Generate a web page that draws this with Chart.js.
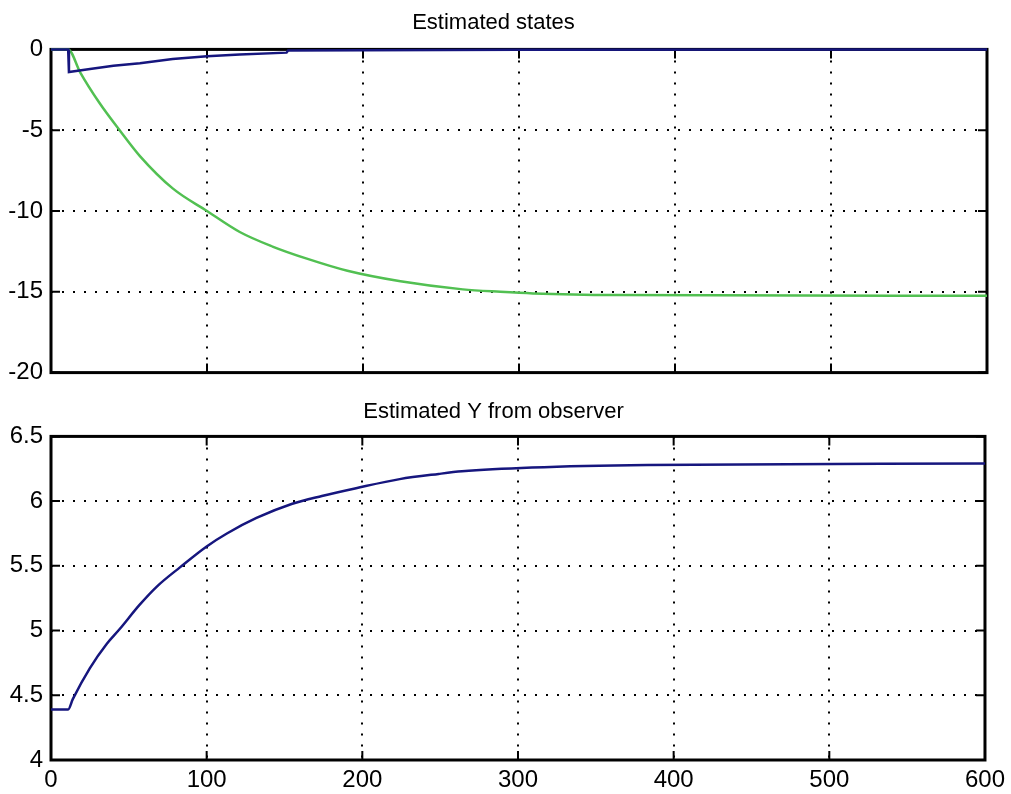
<!DOCTYPE html>
<html>
  <head>
    <script src="https://cdn.jsdelivr.net/npm/chart.js@4.4.1/dist/chart.umd.min.js"></script>
    <style>
      body {
        margin: 0;
        background: #ffffff;
      }
      .wrap {
        position: relative;
        width: 1011px;
        height: 794px;
      }
      canvas {
        position: absolute;
        left: 0;
      }
      #topChart { top: 0; }
      #bottomChart { top: 390px; }
    </style>
  </head>
  <body>
    <div class="wrap">
      <canvas id="topChart" width="1011" height="395"></canvas>
      <canvas id="bottomChart" width="1011" height="404"></canvas>
    </div>

    <script>
      // time axis ticks
      const xTicks = [0, 100, 200, 300, 400, 500, 600];

      // top plot: estimated states
      const state1Time  = [0, 11, 11.5, 25, 40, 57, 78, 100, 121, 151, 152, 200, 300, 600];
      const state1Value = [0, 0, -1.4, -1.21, -1.01, -0.85, -0.6, -0.42, -0.31, -0.2, -0.07, -0.05, -0.02, 0];

      const state2Time  = [0, 11, 18.6, 31, 44, 57, 78, 100, 121, 142, 164, 190, 224, 264, 288, 309, 362, 600];
      const state2Value = [0, 0, -1.4, -3.3, -5.0, -6.6, -8.6, -10.0, -11.3, -12.2, -12.95, -13.7, -14.35, -14.85, -15.0, -15.1, -15.2, -15.25];

      // bottom plot: estimated Y from observer
      const yHatTime  = [0, 11, 14, 25, 36, 44, 57, 68, 83, 100, 113, 132, 155, 174, 196, 224, 249, 264, 309, 383, 600];
      const yHatValue = [4.39, 4.39, 4.47, 4.71, 4.9, 5.01, 5.2, 5.34, 5.49, 5.65, 5.75, 5.87, 5.98, 6.04, 6.1, 6.17, 6.21, 6.23, 6.26, 6.28, 6.29];

      const NAVY = '#16167e';
      const GREEN = '#52c052';
      const FONT = 'Arial, "Liberation Sans", sans-serif';

      function toPoints(xs, ys) {
        return xs.map((x, i) => ({ x: x, y: ys[i] }));
      }

      // box around the axes plus inward tick marks, matlab style
      const boxTicks = {
        id: 'boxTicks',
        beforeDatasetsDraw(chart) {
          const ctx = chart.ctx;
          const a = chart.chartArea;
          const len = 9;
          ctx.save();
          ctx.strokeStyle = '#000000';
          ctx.lineWidth = 2;
          ctx.beginPath();
          chart.scales.x.ticks.forEach(t => {
            const px = chart.scales.x.getPixelForValue(t.value);
            ctx.moveTo(px, a.bottom);
            ctx.lineTo(px, a.bottom - len);
            ctx.moveTo(px, a.top);
            ctx.lineTo(px, a.top + len);
          });
          chart.scales.y.ticks.forEach(t => {
            const py = chart.scales.y.getPixelForValue(t.value);
            ctx.moveTo(a.left, py);
            ctx.lineTo(a.left + len, py);
            ctx.moveTo(a.right, py);
            ctx.lineTo(a.right - len, py);
          });
          ctx.stroke();
          ctx.lineWidth = 3;
          ctx.strokeRect(a.left, a.top, a.right - a.left, a.bottom - a.top);
          ctx.restore();
        }
      };

      function makeOptions(title, yMin, yMax, yStep, showX, titlePad) {
        return {
          responsive: false,
          animation: false,
          layout: { padding: { left: 0, right: 24, top: 0, bottom: 0 } },
          plugins: {
            legend: { display: false },
            tooltip: { enabled: false },
            title: {
              display: true,
              text: title,
              color: '#000000',
              font: { family: FONT, size: 22, weight: 'normal' },
              padding: titlePad
            }
          },
          scales: {
            x: {
              type: 'linear',
              min: 0,
              max: 600,
              afterBuildTicks: s => { s.ticks = xTicks.map(v => ({ value: v })); },
              afterFit: s => { s.height = showX ? 34 : 20; },
              ticks: {
                display: showX,
                color: '#000000',
                font: { family: FONT, size: 24 },
                padding: 6,
                maxRotation: 0
              },
              grid: {
                color: '#000000',
                lineWidth: 2,
                drawTicks: false
              },
              border: { display: false, dash: [2, 9] }
            },
            y: {
              min: yMin,
              max: yMax,
              afterFit: s => { s.width = 51; },
              ticks: {
                stepSize: yStep,
                color: '#000000',
                font: { family: FONT, size: 24 },
                padding: 8,
                callback: v => String(Number(v.toFixed(2)))
              },
              grid: {
                color: '#000000',
                lineWidth: 2,
                drawTicks: false
              },
              border: { display: false, dash: [2, 9] }
            }
          }
        };
      }

      new Chart(document.getElementById('topChart').getContext('2d'), {
        type: 'line',
        data: {
          datasets: [
            {
              label: 'x1',
              data: toPoints(state1Time, state1Value),
              borderColor: NAVY,
              borderWidth: 2.5,
              pointRadius: 0,
              tension: 0,
              clip: 4
            },
            {
              label: 'x2',
              data: toPoints(state2Time, state2Value),
              borderColor: GREEN,
              borderWidth: 2.5,
              pointRadius: 0,
              cubicInterpolationMode: 'monotone',
              clip: 4
            }
          ]
        },
        options: makeOptions('Estimated states', -20, 0, 5, false, { top: 10, bottom: 13 }),
        plugins: [boxTicks]
      });

      new Chart(document.getElementById('bottomChart').getContext('2d'), {
        type: 'line',
        data: {
          datasets: [
            {
              label: 'y hat',
              data: toPoints(yHatTime, yHatValue),
              borderColor: NAVY,
              borderWidth: 2.5,
              pointRadius: 0,
              cubicInterpolationMode: 'monotone',
              clip: 4
            }
          ]
        },
        options: makeOptions('Estimated Y from observer', 4, 6.5, 0.5, true, { top: 9, bottom: 11 }),
        plugins: [boxTicks]
      });
    </script>
  </body>
</html>
